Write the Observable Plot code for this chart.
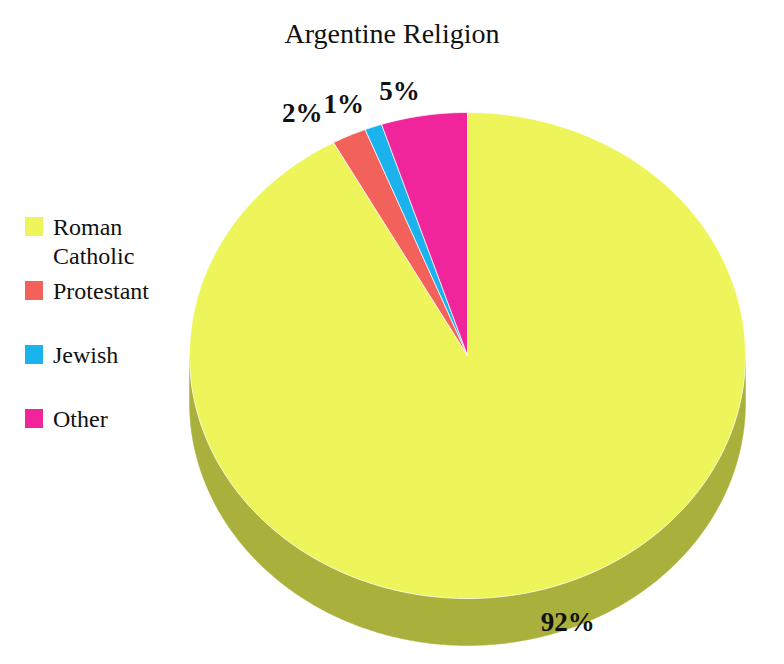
<!DOCTYPE html>
<html><head><meta charset="utf-8">
<script src="https://cdn.jsdelivr.net/npm/d3@7"></script>
<script src="https://cdn.jsdelivr.net/npm/@observablehq/plot@0.6"></script>
<style>
body{margin:0;background:#fff;}
#chart{position:relative;width:784px;height:664px;font-family:"Liberation Serif","Times New Roman",serif;color:#111;}
#title{height:52px;box-sizing:border-box;padding-top:20px;line-height:28px;font-size:28px;text-align:center;}
#legend{position:absolute;left:25px;top:213px;}
.item{height:64px;display:flex;align-items:flex-start;}
.sw{width:18px;height:19px;margin-top:4px;margin-right:10px;flex:none;}
.lab{font-size:24px;line-height:29px;width:112px;}
</style></head><body>
<div id="chart"><div id="title"></div><div id="legend"></div></div>
<script>
// ---- data ----
const title = "Argentine Religion";
const categories = ["Roman Catholic", "Protestant", "Jewish", "Other"];
const values = [92, 2, 1, 5];
const valueLabels = ["92%", "2%", "1%", "5%"];
const colors = ["#eef55a", "#f2615a", "#1ab3ee", "#f0259b"];
const sideColors = ["#aab03c", "#b04a44", "#1583ad", "#b01c72"];

// ---- layout constants ----
const W = 784, H = 612;
const cx = 467, cy = 303, rx = 278, ry = 243;
const depth = 47 / ry; // side thickness in unit-radius coordinates
const labelFontSize = 27;

document.getElementById("title").textContent = title;
const legend = document.getElementById("legend");
categories.forEach((c, i) => {
  const it = document.createElement("div"); it.className = "item";
  const sw = document.createElement("div"); sw.className = "sw"; sw.style.background = colors[i];
  const lab = document.createElement("div"); lab.className = "lab"; lab.textContent = c;
  it.append(sw, lab); legend.append(it);
});

const arcs = d3.pie().sort(null).value(d => d)(values);
const step = Math.PI / 360;
function rim(a0, a1, dy = 0) {
  const pts = [];
  const n = Math.max(2, Math.ceil((a1 - a0) / step));
  for (let k = 0; k <= n; k++) {
    const a = a0 + (a1 - a0) * k / n;
    pts.push({x: Math.sin(a), y: Math.cos(a) + dy});
  }
  return pts;
}

const marks = [];
// side (visible front half: angles pi/2 .. 3pi/2)
arcs.forEach((s, i) => {
  const a0 = Math.max(s.startAngle, Math.PI / 2), a1 = Math.min(s.endAngle, 3 * Math.PI / 2);
  if (a1 <= a0) return;
  const top = rim(a0, a1, 0), bot = rim(a0, a1, -depth).reverse();
  const poly = [...top, ...bot, top[0]];
  marks.push(Plot.line(poly, {x: "x", y: "y", fill: sideColors[i], stroke: sideColors[i], strokeWidth: 0.5}));
});
// top faces
arcs.forEach((s, i) => {
  const poly = [{x: 0, y: 0}, ...rim(s.startAngle, s.endAngle), {x: 0, y: 0}];
  marks.push(Plot.line(poly, {x: "x", y: "y", fill: colors[i], stroke: "#ffffff", strokeOpacity: 0.7, strokeWidth: 1}));
});

// labels
const ctx = document.createElement("canvas").getContext("2d");
ctx.font = `bold ${labelFontSize}px "Liberation Serif"`;
const lab = arcs.map((s, i) => ({mid: (s.startAngle + s.endAngle) / 2, text: valueLabels[i]}));
const isFront = d => d.mid > Math.PI / 2 && d.mid < 3 * Math.PI / 2;
const front = lab.filter(isFront);
// back labels: placed outside the rim, right-anchored; nudge left to avoid overlaps
const back = lab.filter(d => !isFront(d)).map(d => ({...d, x: 1.1 * Math.sin(d.mid), y: 1.1 * Math.cos(d.mid)}));
back.sort((a, b) => b.x - a.x);
const pxPerUnit = rx;
for (let k = 1; k < back.length; k++) {
  const prev = back[k - 1];
  const prevLeft = prev.x - (ctx.measureText(prev.text).width + 1) / pxPerUnit;
  if (back[k].x > prevLeft) back[k].x = prevLeft;
}
const font = {fontFamily: "Liberation Serif", fontWeight: "bold", fontSize: labelFontSize, fill: "#111"};
marks.push(Plot.text(back, {x: "x", y: "y", text: "text", textAnchor: "end", ...font}));
marks.push(Plot.text(front, {x: d => Math.sin(d.mid), y: d => Math.cos(d.mid) - depth * 0.68, text: "text", textAnchor: "start", dx: 4, ...font}));

const chart = Plot.plot({
  width: W, height: H, margin: 0,
  x: {domain: [-1, 1], range: [cx - rx, cx + rx], axis: null},
  y: {domain: [-1, 1], range: [cy + ry, cy - ry], axis: null},
  style: {background: "transparent", overflow: "visible"},
  marks
});
document.getElementById("chart").insertBefore(chart, legend);
</script>
</body></html>
